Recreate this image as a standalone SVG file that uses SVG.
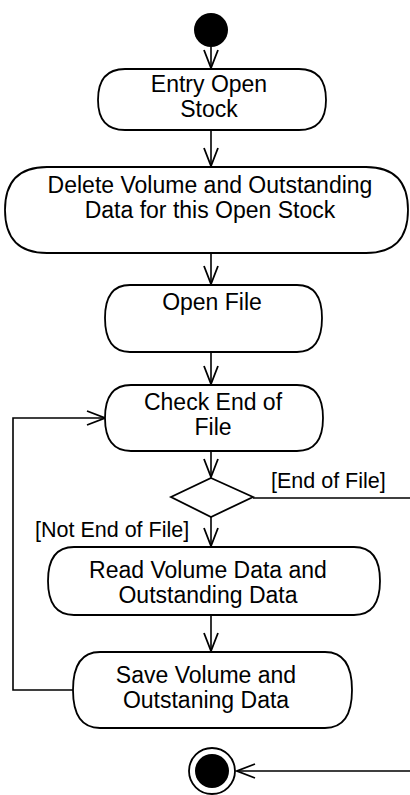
<svg xmlns="http://www.w3.org/2000/svg" width="410" height="795" viewBox="0 0 410 795">
  <style>
    .node { fill: #fff; stroke: #000; stroke-width: 1.8; }
    .lbl { font-family: "Liberation Sans", Arial, sans-serif; font-size: 23px; fill: #000; text-anchor: middle; }
    .guard { font-family: "Liberation Sans", Arial, sans-serif; font-size: 21.5px; fill: #000; }
    .edge { fill: none; stroke: #000; stroke-width: 1.6; }
  </style>
  <defs>
    <marker id="arr" viewBox="-20 -10 22 20" refX="0" refY="0" markerWidth="22" markerHeight="20" markerUnits="userSpaceOnUse" orient="auto">
      <path d="M-18,-7 L0,0 L-18,7" fill="none" stroke="#000" stroke-width="1.8"/>
    </marker>
  </defs>
  <rect width="410" height="795" fill="#fff"/>

  <g id="edges">
    <path class="edge" d="M211,47 V68" marker-end="url(#arr)"/>
    <path class="edge" d="M211,130 V166" marker-end="url(#arr)"/>
    <path class="edge" d="M211,253 V284" marker-end="url(#arr)"/>
    <path class="edge" d="M211,352 V384" marker-end="url(#arr)"/>
    <path class="edge" d="M211,451 V477" marker-end="url(#arr)"/>
    <path class="edge" d="M211,517 V546" marker-end="url(#arr)"/>
    <path class="edge" d="M211,615 V651" marker-end="url(#arr)"/>
    <path class="edge" d="M73,690 H13 V418 H105" marker-end="url(#arr)"/>
    <path class="edge" d="M253,498 H414 V771 H237" marker-end="url(#arr)"/>
    <text class="guard" x="271" y="488">[End of File]</text>
    <text class="guard" x="35" y="537">[Not End of File]</text>
  </g>

  <g id="start">
    <circle cx="211" cy="30" r="17" fill="#000"/>
  </g>

  <g id="entry">
    <path class="node" d="M125,69 H299 Q326,69 326,100 Q326,130 299,130 H125 Q98,130 98,100 Q98,69 125,69 Z"/>
    <text class="lbl" x="209" y="92">Entry Open</text>
    <text class="lbl" x="209" y="117">Stock</text>
  </g>

  <g id="delete">
    <path class="node" d="M47,167 H366 Q408,167 408,210 Q408,253 366,253 H47 Q5,253 5,210 Q5,167 47,167 Z"/>
    <text class="lbl" x="210" y="193">Delete Volume and Outstanding</text>
    <text class="lbl" x="210" y="218">Data for this Open Stock</text>
  </g>

  <g id="openfile">
    <path class="node" d="M130,285 H297 Q322,285 322,318 Q322,352 297,352 H130 Q105,352 105,318 Q105,285 130,285 Z"/>
    <text class="lbl" x="212" y="310">Open File</text>
  </g>

  <g id="checkeof">
    <path class="node" d="M131,385 H297 Q323,385 323,418 Q323,451 297,451 H131 Q105,451 105,418 Q105,385 131,385 Z"/>
    <text class="lbl" x="213" y="410">Check End of</text>
    <text class="lbl" x="213" y="435">File</text>
  </g>

  <g id="decision">
    <path class="node" d="M211,478 L253,497 L211,517 L171,497 Z"/>
  </g>

  <g id="read">
    <path class="node" d="M74,547 H354 Q380,547 380,581 Q380,615 354,615 H74 Q48,615 48,581 Q48,547 74,547 Z"/>
    <text class="lbl" x="208" y="578">Read Volume Data and</text>
    <text class="lbl" x="208" y="603">Outstanding Data</text>
  </g>

  <g id="save">
    <path class="node" d="M100,652 H325 Q352,652 352,690 Q352,728 325,728 H100 Q73,728 73,690 Q73,652 100,652 Z"/>
    <text class="lbl" x="206" y="683">Save Volume and</text>
    <text class="lbl" x="206" y="708">Outstaning Data</text>
  </g>

  <g id="final">
    <circle cx="212" cy="771" r="23" fill="#fff" stroke="#000" stroke-width="1.8"/>
    <circle cx="212" cy="771" r="17" fill="#000"/>
  </g>
</svg>
